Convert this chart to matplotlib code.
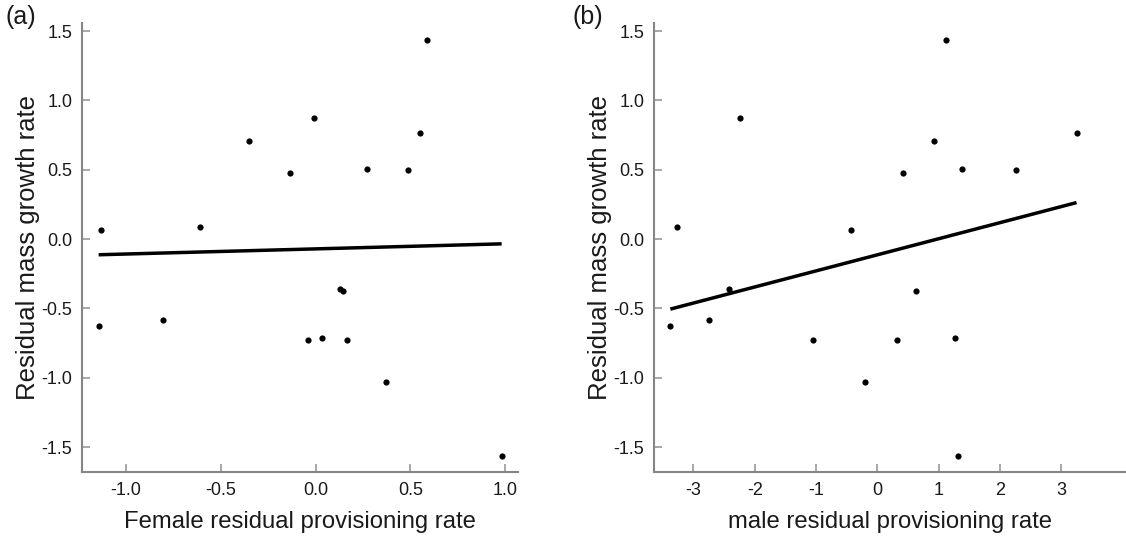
import matplotlib
matplotlib.use("Agg")
import matplotlib.pyplot as plt
import numpy as np

plt.rcParams['font.family'] = ['Liberation Sans', 'DejaVu Sans']

# residual mass growth rate (same birds in both panels)
growth = [0.067, 0.089, 0.709, 0.478, 0.871, 0.507, 0.496, 0.762, 1.438,
          -0.630, -0.582, -0.731, -0.712, -0.358, -0.375, -0.731, -1.029, -1.563]
# female residual provisioning rate
female_x = [-1.132, -0.611, -0.351, -0.132, -0.007, 0.274, 0.488, 0.549, 0.589,
            -1.144, -0.804, -0.042, 0.035, 0.128, 0.144, 0.168, 0.372, 0.982]
# male residual provisioning rate
male_x = [-0.429, -3.262, 0.920, 0.414, -2.240, 1.387, 2.257, 3.253, 1.121,
          -3.377, -2.745, -1.049, 1.263, -2.414, 0.631, 0.316, -0.196, 1.321]

# fitted lines (intercept, slope)
fit_female = (-0.0706, 0.037)
fit_male = (-0.1136, 0.1159)

y_ticks = [-1.5, -1.0, -0.5, 0.0, 0.5, 1.0, 1.5]
female_ticks = [-1.0, -0.5, 0.0, 0.5, 1.0]
male_ticks = [-3, -2, -1, 0, 1, 2, 3]

spine_col = '#858585'
text_col = '#1a1a1a'


def style_axes(ax):
    for s in ['top', 'right']:
        ax.spines[s].set_visible(False)
    for s in ['left', 'bottom']:
        ax.spines[s].set_color(spine_col)
        ax.spines[s].set_linewidth(1.5)
    ax.tick_params(direction='in', length=6, width=1.2, color='#9a9a9a',
                   labelsize=13, labelcolor=text_col, pad=7)


def draw_panel(ax, xs, fit, xticks, xlim, xlabel, fmt):
    ax.scatter(xs, growth, s=20, color='black', zorder=3, linewidths=0)
    lx = np.array([min(xs), max(xs)])
    ax.plot(lx, fit[0] + fit[1] * lx, color='black', linewidth=2.5,
            solid_capstyle='butt')
    ax.set_xlim(*xlim)
    ax.set_ylim(-1.68, 1.558)
    ax.set_yticks(y_ticks)
    ax.set_yticklabels([f"{v:.1f}" for v in y_ticks])
    ax.set_xticks(xticks)
    ax.set_xticklabels([fmt(v) for v in xticks])
    ax.set_ylabel("Residual mass growth rate", fontsize=18.5, color=text_col)
    ax.set_xlabel(xlabel, fontsize=17.2, color=text_col)
    style_axes(ax)


fig = plt.figure(figsize=(11.26, 5.37), dpi=100)
ax_a = fig.add_axes([0.0728, 0.121, 0.3872, 0.836])
ax_b = fig.add_axes([0.581, 0.121, 0.419, 0.836])

draw_panel(ax_a, female_x, fit_female, female_ticks, (-1.232, 1.068),
           "Female residual provisioning rate", lambda v: f"{v:.1f}")
draw_panel(ax_b, male_x, fit_male, male_ticks, (-3.64, 4.06),
           "male residual provisioning rate", lambda v: f"{v:d}")

ax_a.yaxis.set_label_coords(-0.0954, 0.5)
ax_b.yaxis.set_label_coords(-0.0897, 0.5)
ax_a.xaxis.set_label_coords(0.5, -0.087)
ax_b.xaxis.set_label_coords(0.5, -0.087)

fig.text(0.005, 0.99, "(a)", fontsize=18, va='top', ha='left', color=text_col)
fig.text(0.508, 0.99, "(b)", fontsize=18, va='top', ha='left', color=text_col)

fig.savefig("out.png", dpi=100)
